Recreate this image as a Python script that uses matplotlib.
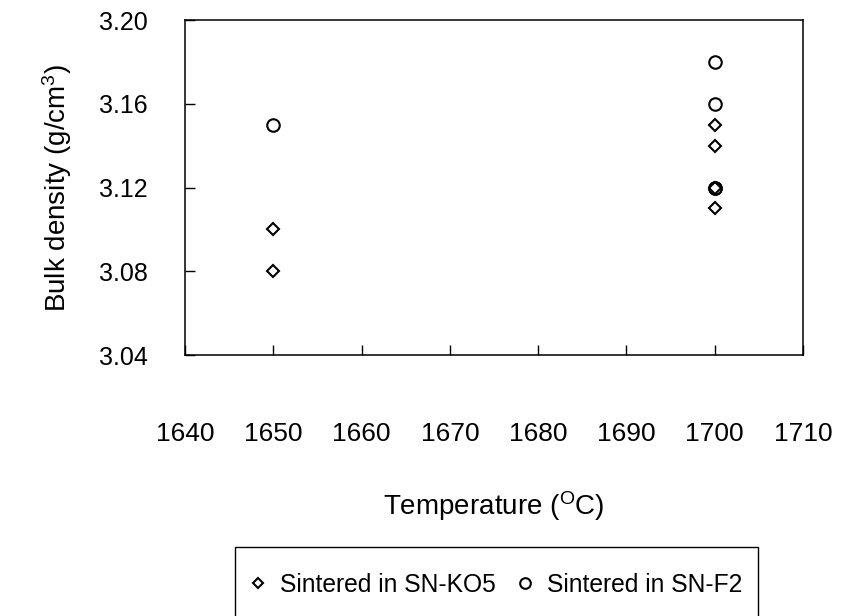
import numpy as np
import matplotlib
matplotlib.use("Agg")
import matplotlib.pyplot as plt
from matplotlib.patches import Rectangle

plt.rcParams['font.family'] = ['Liberation Sans', 'DejaVu Sans']
plt.rcParams['mathtext.default'] = 'regular'

# data
temp_ko5 = [1650, 1650, 1700, 1700, 1700, 1700]
dens_ko5 = [3.10, 3.08, 3.15, 3.14, 3.12, 3.11]
temp_f2 = [1650, 1700, 1700, 1700, 1700]
dens_f2 = [3.15, 3.18, 3.16, 3.12, 3.12]

xticks = [1640, 1650, 1660, 1670, 1680, 1690, 1700, 1710]
yticks = [3.04, 3.08, 3.12, 3.16, 3.20]

W, H = 841, 616
fig = plt.figure(figsize=(W / 100, H / 100), dpi=100)
ax = fig.add_axes([0.22, 0.4237, 0.7348, 0.5438])

ax.plot(temp_ko5, dens_ko5, 'D', ms=6, mfc='none', mec='black', mew=1.5,
        label='Sintered in SN-KO5')
ax.plot(temp_f2, dens_f2, 'o', ms=9, mfc='none', mec='black', mew=1.5,
        label='Sintered in SN-F2')

ax.set_xlim(1640, 1710)
ax.set_ylim(3.04, 3.20)
ax.set_xticks(xticks)
ax.set_yticks(yticks)
ax.set_yticklabels(['%.2f' % v for v in yticks])
ax.tick_params(axis='both', direction='in', length=7, width=1)
ax.tick_params(axis='x', pad=48, labelsize=19)
ax.tick_params(axis='y', pad=27, labelsize=18)
for s in ax.spines.values():
    s.set_linewidth(1.1)

ax.set_xlabel('Temperature ($^{O}$C)', fontsize=20, labelpad=31)
ax.set_ylabel('Bulk density (g/cm$^{3}$)', fontsize=20, labelpad=18)

# legend box runs off the bottom of the page in the original
box = Rectangle((235 / W, -0.05), (758 - 235) / W, (616 - 547) / H + 0.05,
                transform=fig.transFigure, fill=False, ec='black', lw=1.0)
fig.add_artist(box)

leg = fig.legend(loc='center left', bbox_to_anchor=(251 / W, 1 - 585 / H),
                 ncol=2, frameon=False, fontsize=17.7, markerscale=0.85,
                 handlelength=0.6, handletextpad=0.6, columnspacing=0.85,
                 borderpad=0, borderaxespad=0)

fig.savefig('out.png', dpi=100)
